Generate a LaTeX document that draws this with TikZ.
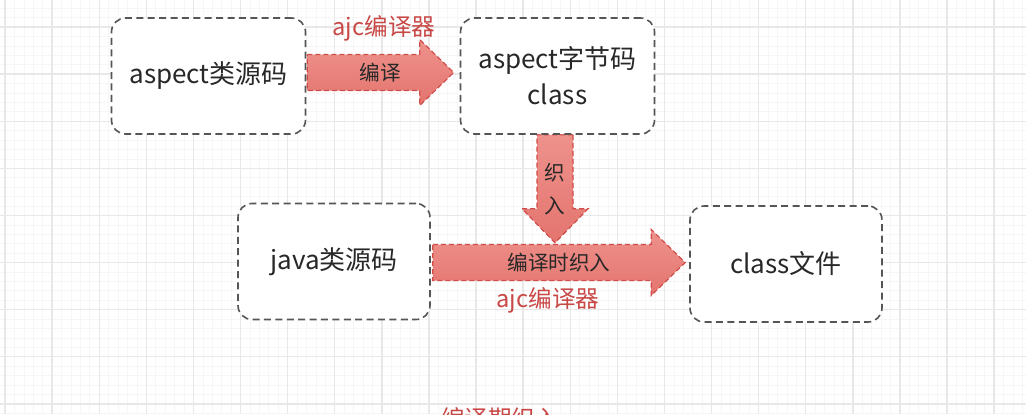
\documentclass[tikz,border=0pt]{standalone}
\usepackage{fontspec}
\setmainfont{Noto Sans CJK SC}
\usetikzlibrary{calc,positioning}

\definecolor{boxline}{RGB}{85,85,85}
\definecolor{textgray}{RGB}{40,40,40}
\definecolor{arrowline}{RGB}{208,76,72}
\definecolor{arrowtop}{RGB}{238,146,140}
\definecolor{arrowbot}{RGB}{228,116,110}
\definecolor{labelred}{RGB}{200,72,70}
\definecolor{gridmajor}{RGB}{232,232,232}
\definecolor{gridminor}{RGB}{246,246,246}

\pgfdeclarelayer{behind}
\pgfsetlayers{behind,main}

% fat arrow from tail #1 to tip #2, label node #3 with text #4
\newcommand{\fatarrow}[4]{%
  \path ($(#2)!17pt!(#1)$) coordinate (#3neck);
  \draw[fatarrow] ($(#1)!9pt!90:(#2)$) -- ($(#3neck)!9pt!90:(#2)$)
    -- ($(#3neck)!16.5pt!90:(#2)$) -- (#2) -- ($(#3neck)!16.5pt!-90:(#2)$)
    -- ($(#3neck)!9pt!-90:(#2)$) -- ($(#1)!9pt!-90:(#2)$) -- cycle;
  \path (#1) -- (#2) node[midway, arrowtext] (#3) {#4};
}

\tikzset{
  srcbox/.style={draw=boxline, line width=0.8pt, dash pattern=on 3.5pt off 2.2pt,
    rounded corners=7pt, fill=white, minimum width=97pt, minimum height=58pt,
    text=textgray, font=\fontsize{13}{18}\selectfont, align=center},
  fatarrow/.style={draw=arrowline, line width=0.6pt, dash pattern=on 2.5pt off 1.5pt,
    top color=arrowtop, bottom color=arrowbot},
  arrowtext/.style={text=textgray, font=\fontsize{10.3}{16.5}\selectfont, align=center, inner sep=0pt},
  redlabel/.style={text=labelred, font=\fontsize{11.8}{13}\selectfont, inner sep=0pt},
  minorline/.style={gridminor, line width=0.3pt},
  majorline/.style={gridmajor, line width=0.7pt},
}

\begin{document}
\begin{tikzpicture}[x=0.5pt, y=-0.5pt]
    \useasboundingbox (0,0) rectangle (1026,414);

    % Background grid
    \begin{pgfonlayer}{behind}
      \fill[white] (0,0) rectangle (1026,414);
      \foreach \k in {-1,...,109} {
        \draw[minorline] ({5+9.42*\k},0) -- ({5+9.42*\k},414);
      }
      \foreach \k in {-3,...,41} {
        \draw[minorline] (0,{27+9.42*\k}) -- (1026,{27+9.42*\k});
      }
      \foreach \k in {0,...,21} {
        \draw[majorline] ({5+47.1*\k},0) -- ({5+47.1*\k},414);
      }
      \foreach \k in {0,...,8} {
        \draw[majorline] (0,{27+47.1*\k}) -- (1026,{27+47.1*\k});
      }
    \end{pgfonlayer}

    % Boxes
    \node[srcbox] (srcA) at (208.5,76) {aspect类源码};
    \node[srcbox] (byteB) at (557.5,76) {aspect字节码\\class};
    \node[srcbox, minimum width=96pt] (javaC) at (334,261.5) {java类源码};
    \node[srcbox, minimum width=96pt] (fileD) at (786,264) {class文件};

    % Arrow ends
    \coordinate (a1) at ($(srcA.east)+(1,-3.5)$);
    \coordinate (b1) at ($(byteB.west)+(-6,-3.5)$);
    \coordinate (a2) at ($(byteB.south)+(-2.5,0)$);
    \coordinate (b2) at ($(a2)+(0,108)$);
    \coordinate (a3) at ($(javaC.east)+(2,1)$);
    \coordinate (b3) at ($(fileD.west)+(-4,-1.5)$);

    % Arrows
    \begin{pgfonlayer}{behind}
      \fatarrow{a1}{b1}{compile}{编译}
      \fatarrow{a2}{b2}{weave}{织\\入}
      \fatarrow{a3}{b3}{cweave}{编译时织入}
    \end{pgfonlayer}

    % Compiler labels
    \node[redlabel] (ajcTop) at (384,28) {ajc编译器};
    \node[redlabel] (ajcBot) at (548,300) {ajc编译器};
    \node[redlabel] (caption) at (500,418) {编译期织入};
\end{tikzpicture}
\end{document}
